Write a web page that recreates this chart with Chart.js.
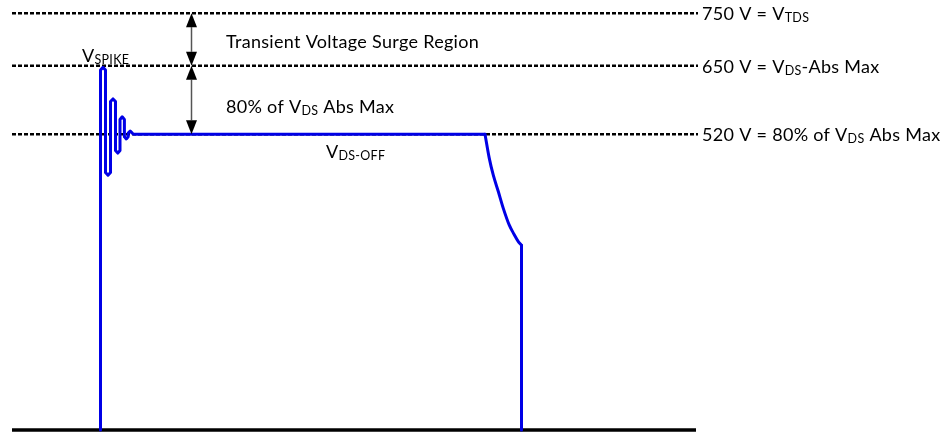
<!DOCTYPE html>
<html><head><meta charset="utf-8">
<script src="https://cdn.jsdelivr.net/npm/chart.js@4.4.1/dist/chart.umd.min.js"></script>
<style>html,body{margin:0;padding:0;background:#fff;} #wrap{width:947px;height:432px;position:relative;}</style>
</head><body><div id="wrap"><canvas id="c"></canvas></div>
<script>
// ---------------- data ----------------
const levelVolts  = [750, 650, 520];
const levelLabels = ['750 V = V_{TDS}', '650 V = V_{DS}-Abs Max', '520 V = 80% of V_{DS} Abs Max'];
const levelStart = 12, levelEnd = 698;          // time span of the dashed reference lines
const offLevel = -42;                            // off-state level (bottom line)
const baseStart = 12, baseEnd = 696;
// turn-on edge, ringing and flat V_DS-OFF plateau (time units, volts)
const ringTime = [100.5, 100.5, 103, 105.5, 105.5, 108, 110.5, 110.5, 113, 115.5, 115.5, 117.8, 120,
                  120, 122.2, 124.4, 124.4, 126.3, 128.2, 128.2, 130.2, 132.2, 133.5, 485];
const ringVolt = [-42, 642, 647, 642, 447, 442, 447, 582, 587, 582, 489, 484, 489,
                  548, 553, 548, 515, 511, 515, 522, 526, 522, 520, 520];
// turn-off droop
const fallTime = [485, 489.3, 493.3, 498.3, 503.3, 509.3, 514, 518.3, 521.5];
const fallVolt = [520, 474, 442, 411, 379, 347, 330, 316, 309];
// final drop to the off level
const dropTime = [521.5, 521.5];
const dropVolt = [309, -42];
const arrowTime = 191.5;
const arrowSpans = [[750, 650], [650, 520]];
const regionLabels = ['Transient Voltage Surge Region', '80% of V_{DS} Abs Max'];
const spikeLabel = 'V_{SPIKE}';
const offLabel = 'V_{DS-OFF}';

// ---------------- layout (text anchors in chart units) ----------------
const textAnchors = [
  {text: regionLabels[0], x: 226, y: 684},
  {text: regionLabels[1], x: 226, y: 560},
  {text: spikeLabel, x: 82, y: 657},
  {text: offLabel, x: 326, y: 475}
];
const FONT = 'Lato, "Open Sans", sans-serif';
const MAIN = 18, SUB = 12.5, DROP = 2, SPACING = '0.3px';

function drawRich(ctx, str, x, y) {
  const parts = str.split(/(_\{[^}]*\})/).filter(s => s);
  let cx = x;
  ctx.letterSpacing = SPACING;
  for (const p of parts) {
    const sub = p.startsWith('_{');
    const t = sub ? p.slice(2, -1) : p;
    ctx.font = (sub ? SUB : MAIN) + 'px ' + FONT;
    ctx.fillText(t, cx, y + (sub ? DROP : 0));
    cx += ctx.measureText(t).width;
  }
}

const annot = {
  id: 'annot',
  afterDatasetsDraw(chart) {
    const ctx = chart.ctx, xs = chart.scales.x, ys = chart.scales.y;
    ctx.save();
    const ax = xs.getPixelForValue(arrowTime);
    const hl = 14, hw = 5.5;
    arrowSpans.forEach(([a, b]) => {
      const y1 = ys.getPixelForValue(a), y2 = ys.getPixelForValue(b);
      ctx.strokeStyle = '#555'; ctx.lineWidth = 1.5;
      ctx.beginPath(); ctx.moveTo(ax, y1 + hl); ctx.lineTo(ax, y2 - hl); ctx.stroke();
      ctx.fillStyle = '#000';
      ctx.beginPath(); ctx.moveTo(ax, y1); ctx.lineTo(ax - hw, y1 + hl); ctx.lineTo(ax + hw, y1 + hl); ctx.closePath(); ctx.fill();
      ctx.beginPath(); ctx.moveTo(ax, y2); ctx.lineTo(ax - hw, y2 - hl); ctx.lineTo(ax + hw, y2 - hl); ctx.closePath(); ctx.fill();
    });
    ctx.fillStyle = '#000';
    ctx.textBaseline = 'alphabetic';
    ctx.textAlign = 'left';
    textAnchors.forEach(t => drawRich(ctx, t.text, xs.getPixelForValue(t.x), ys.getPixelForValue(t.y)));
    levelVolts.forEach((v, i) => {
      drawRich(ctx, levelLabels[i], xs.getPixelForValue(levelEnd) + 4, ys.getPixelForValue(v) + 7);
    });
    ctx.restore();
  }
};

const BLUE = '#0000e6';
const pts = (ts, vs) => ts.map((t, i) => ({x: t, y: vs[i]}));
const datasets = [{
  data: pts(ringTime, ringVolt),
  showLine: true, borderColor: BLUE, borderWidth: 3, pointRadius: 0, tension: 0,
  borderJoinStyle: 'round', borderCapStyle: 'round', order: 0
}, {
  data: pts(fallTime, fallVolt),
  showLine: true, borderColor: BLUE, borderWidth: 3, pointRadius: 0, tension: 0.4,
  cubicInterpolationMode: 'monotone', borderJoinStyle: 'round', borderCapStyle: 'round', order: 0
}, {
  data: pts(dropTime, dropVolt),
  showLine: true, borderColor: BLUE, borderWidth: 3, pointRadius: 0, tension: 0,
  borderJoinStyle: 'round', borderCapStyle: 'butt', order: 0
}, {
  data: [{x: baseStart, y: offLevel}, {x: baseEnd, y: offLevel}],
  showLine: true, borderColor: '#000', borderWidth: 3.5, pointRadius: 0, order: 1
}];
levelVolts.forEach(v => datasets.push({
  data: [{x: levelStart, y: v}, {x: levelEnd, y: v}],
  showLine: true, borderColor: '#000', borderWidth: 2.5, borderDash: [4, 2], pointRadius: 0, order: 2
}));

new Chart(document.getElementById('c'), {
  type: 'scatter',
  data: {datasets},
  options: {
    responsive: true, maintainAspectRatio: false, animation: false,
    layout: {padding: 0},
    plugins: {legend: {display: false}, tooltip: {enabled: false}},
    scales: {
      x: {type: 'linear', min: 0, max: 947, display: false},
      y: {type: 'linear', min: -46, max: 775, display: false}
    }
  },
  plugins: [annot]
});
</script></body></html>
